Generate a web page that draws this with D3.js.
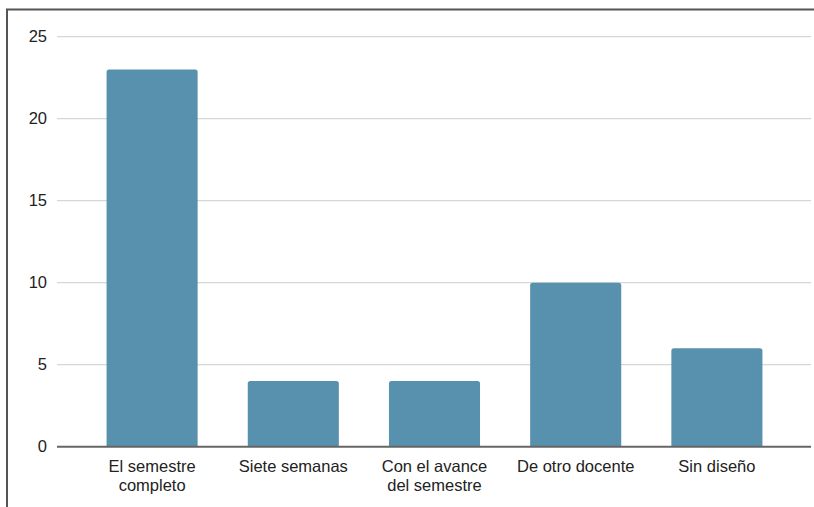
<!DOCTYPE html>
<html>
<head>
<meta charset="utf-8">
<script src="https://cdn.jsdelivr.net/npm/d3@7"></script>
<style>
  html, body { margin: 0; padding: 0; background: #fff; }
  svg { display: block; }
  text { font-family: "Liberation Sans", Arial, sans-serif; fill: #222; }
</style>
</head>
<body>
<svg id="chart" width="814" height="507"></svg>
<script>
// Categories (multi-line labels use "\n")
const categories = [
  "El semestre\ncompleto",
  "Siete semanas",
  "Con el avance\ndel semestre",
  "De otro docente",
  "Sin diseño"
];
const values = [23, 4, 4, 10, 6];
const yTicks = [0, 5, 10, 15, 20, 25];

const svg = d3.select("#chart");
const W = 814, H = 507;

// Frame around the chart
svg.append("path")
  .attr("d", `M7,${H} L7,9.5 L${W},9.5`)
  .attr("fill", "none")
  .attr("stroke", "#555")
  .attr("stroke-width", 2);

const gridLeft = 57, gridRight = 811;

const y = d3.scaleLinear().domain([0, 25]).range([446.7, 36.7]);
const x = d3.scaleBand()
  .domain(categories)
  .range([81.5, 787.5])
  .paddingInner(0.355)
  .paddingOuter(0.1775);

// Gridlines
svg.append("g")
  .selectAll("line")
  .data(yTicks.filter(t => t !== 0))
  .join("line")
  .attr("x1", gridLeft).attr("x2", gridRight)
  .attr("y1", d => y(d)).attr("y2", d => y(d))
  .attr("stroke", "#d6d6d6")
  .attr("stroke-width", 1.3);

// Y axis labels
const yAxis = d3.axisLeft(y).tickValues(yTicks).tickSize(0).tickPadding(0).tickFormat(d3.format("d"));
const gy = svg.append("g").attr("transform", "translate(47,0)").call(yAxis);
gy.select(".domain").remove();
gy.selectAll("text")
  .attr("font-size", "16.5px")
  .attr("font-family", "Liberation Sans, Arial, sans-serif")
  .attr("fill", "#222");

// Bars with slightly rounded top corners
const r = 2.5;
svg.append("g")
  .selectAll("path")
  .data(categories.map((c, i) => ({ c, v: values[i] })))
  .join("path")
  .attr("fill", "#5891ae")
  .attr("d", d => {
    const x0 = x(d.c), x1 = x0 + x.bandwidth();
    const y0 = y(0), y1 = y(d.v);
    return `M${x0},${y0} L${x0},${y1 + r} Q${x0},${y1} ${x0 + r},${y1} ` +
           `L${x1 - r},${y1} Q${x1},${y1} ${x1},${y1 + r} L${x1},${y0} Z`;
  });

// Baseline
svg.append("line")
  .attr("x1", gridLeft).attr("x2", gridRight)
  .attr("y1", y(0)).attr("y2", y(0))
  .attr("stroke", "#666")
  .attr("stroke-width", 2);

// X axis labels
const xAxis = d3.axisBottom(x).tickSize(0).tickFormat(() => "");
const gx = svg.append("g").attr("transform", `translate(0,${y(0)})`).call(xAxis);
gx.select(".domain").remove();
gx.selectAll(".tick").each(function(d) {
  const t = d3.select(this).select("text")
    .attr("y", 0).attr("dy", null)
    .attr("font-size", "16.5px")
    .attr("font-family", "Liberation Sans, Arial, sans-serif")
    .attr("fill", "#222")
    .attr("text-anchor", "middle");
  d.split("\n").forEach((line, i) => {
    t.append("tspan").attr("x", 0).attr("y", 25.5 + i * 19).text(line);
  });
});
</script>
</body>
</html>
